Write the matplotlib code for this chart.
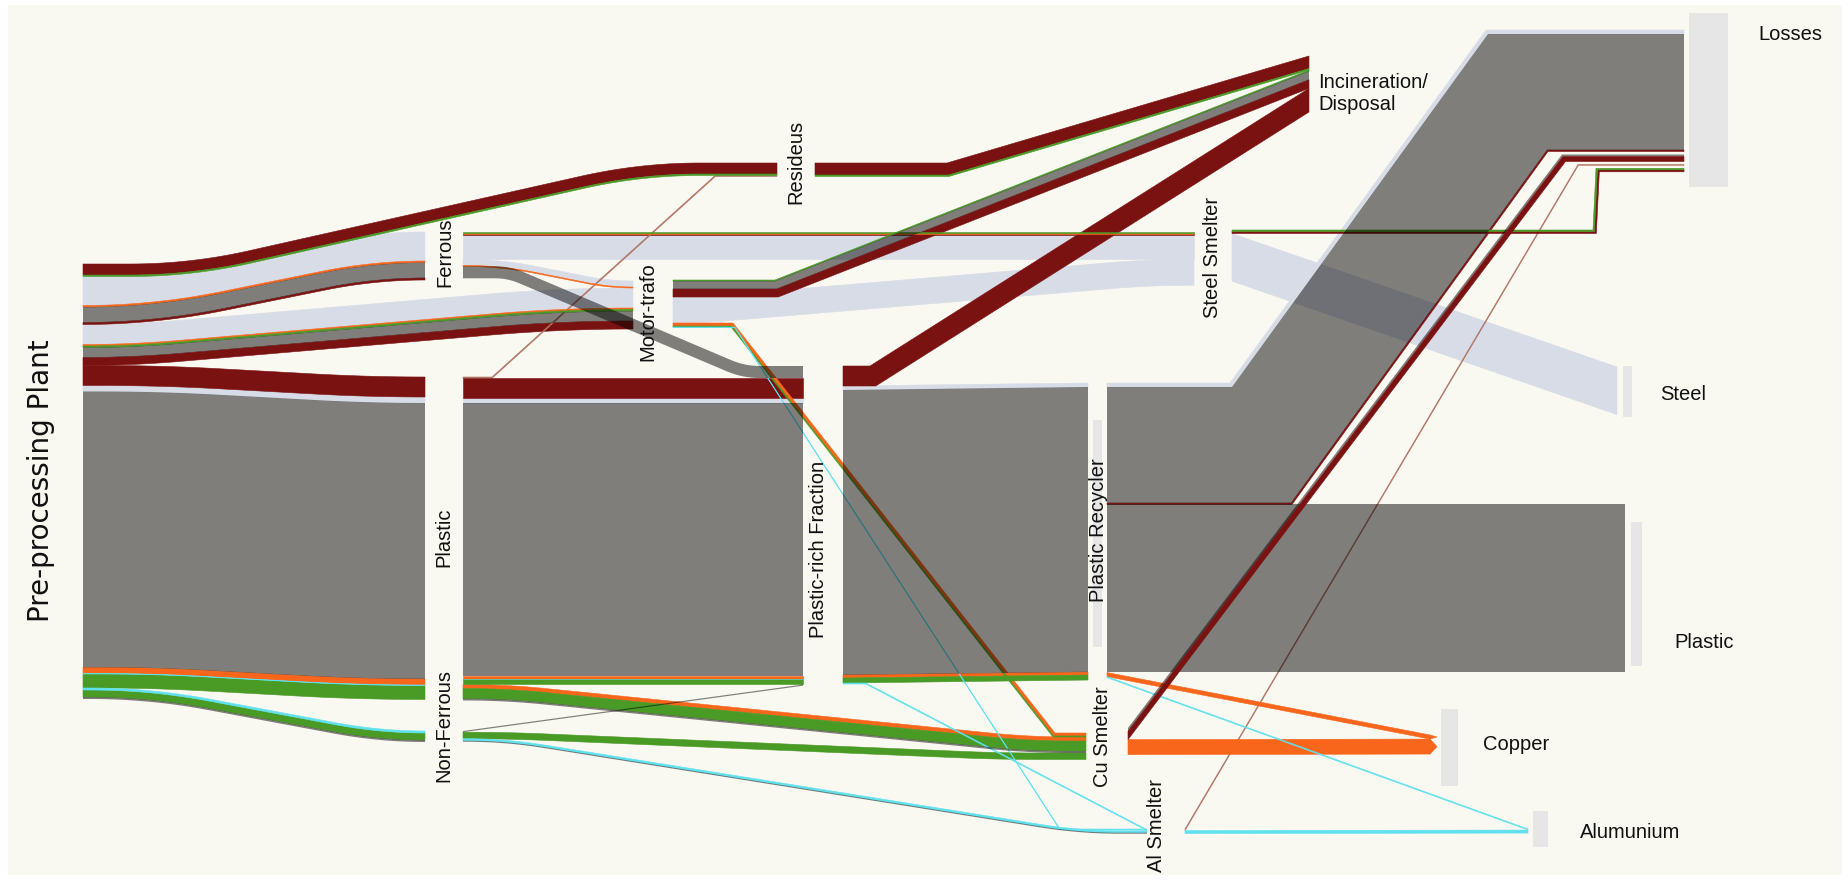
import numpy as np
import matplotlib
matplotlib.use("Agg")
import matplotlib.pyplot as plt
from matplotlib.patches import Polygon, Rectangle

# ---------------- data ----------------
# material flows of the recycling chain, one entry per arrow (kt, 1 kt = 2 px band width)
FLOW_SOURCE = ["plant", "plant", "ferrous", "ferrous", "ferrous", "plant", "plant", "plant",
               "plastic", "residues", "motor", "motor", "motor", "motor", "plastic", "plastic",
               "nonferrous", "nonferrous", "prf", "prf", "prf", "nonferrous",
               "recycler", "recycler", "recycler", "recycler", "cu", "cu", "al", "al",
               "steelsm", "steelsm"]
FLOW_TARGET = ["residues", "ferrous", "steelsm", "motor", "prf", "motor", "plastic", "nonferrous",
               "residues", "incin", "incin", "steelsm", "cu", "al", "prf", "cu",
               "prf", "cu", "incin", "recycler", "al", "al",
               "losses", "plastic_out", "copper", "alu", "losses", "copper", "losses", "alu",
               "losses", "steel_out"]
FLOW_MATERIALS = [
    ["residue", "other"],
    ["steel", "copper", "plastic", "residue"],
    ["other", "copper", "residue", "steel"],
    ["steel", "copper"],
    ["plastic"],
    ["steel", "copper", "other", "plastic", "residue"],
    ["residue", "steel", "plastic", "copper", "aluminium", "other"],
    ["aluminium", "other", "plastic"],
    ["residue"],
    ["residue", "other"],
    ["other", "plastic", "residue"],
    ["steel"],
    ["copper", "other"],
    ["aluminium"],
    ["residue", "steel", "plastic", "copper", "aluminium", "other"],
    ["copper", "other", "plastic"],
    ["plastic"],
    ["other"],
    ["residue"],
    ["steel", "plastic", "copper", "other"],
    ["aluminium"],
    ["aluminium", "plastic"],
    ["steel", "plastic", "residue"],
    ["plastic"],
    ["copper"],
    ["aluminium"],
    ["plastic", "residue"],
    ["copper"],
    ["residue"],
    ["aluminium"],
    ["other", "residue"],
    ["steel"],
]
FLOW_AMOUNTS = [
    [5.5, 0.75],
    [14.5, 0.75, 7.75, 1.0],
    [0.5, 0.4, 0.75, 12.0],
    [3.0, 0.5],
    [6.0],
    [10.0, 0.75, 0.75, 5.0, 4.0],
    [10.0, 3.0, 138.0, 3.0, 0.25, 7.0],
    [1.0, 3.5, 1.0],
    [0.5],
    [6.0, 0.75],
    [0.5, 4.0, 4.0],
    [13.0],
    [1.5, 0.5],
    [0.3],
    [10.0, 2.5, 136.5, 1.5, 0.25, 2.5],
    [2.0, 5.0, 1.0],
    [0.6],
    [3.25],
    [10.0],
    [2.0, 142.5, 1.5, 2.5],
    [0.5],
    [1.0, 0.5],
    [2.0, 58.0, 0.75],
    [84.0],
    [2.0],
    [0.5],
    [1.0, 2.5],
    [7.5],
    [0.4],
    [1.5],
    [0.75, 1.0],
    [22.5],
]

# ---------------- layout / style ----------------
PX_PER_UNIT = 2.0
BG = "#F9F8F1"
COLORS = {
    "steel": "#D8DCE7",
    "residue": "#7B1212",
    "copper": "#F8661C",
    "other": "#4A9A26",
    "aluminium": "#5FE1EE",
    "plastic": (0, 0, 0, 0.49),   # drawn as a darkening layer (multiply look)
}
THIN_RESIDUE = "#B07262"
LAYER_ORDER = ["steel", "residue", "copper", "other", "aluminium", "plastic"]
TOP_FLOWS = [("cu", "losses")]   # drawn over the grey plastic bands

# node: x where inflows end, x where outflows start, top of inflow stack, top of outflow stack, gap
NODE_LAYOUT = {
    "plant": (None, 83, None, 264, 0),
    "ferrous": (425, 463, 232, 232, 0),
    "plastic": (425, 463, 377, 377, 0),
    "nonferrous": (425, 463, 731, 731, 0),
    "residues": (777, 815, 163, 163, 0),
    "motor": (633, 673, 281, 280, 0),
    "prf": (803, 843, 366, 366, 0),
    "steelsm": (1194, 1232, 232, 230, 0),
    "incin": (1309, None, 56, None, 0),
    "recycler": (1088, 1107, 383, 383, 0),
    "cu": (1086, 1128, 733, 728, 0),
    "al": (1147, 1185, 829, 829, 0),
    "losses": (1684, None, 30, None, 3),
    "steel_out": (1617, None, 367, None, 0),
    "plastic_out": (1625, None, 504.5, None, 0),
    "copper": (1430, None, 735, None, 0),
    "alu": (1528, None, 829, None, 0),
}
ARROW_NODES = ["copper"]

# bend x positions (None = at node) and corner rounding for every arrow
FLOW_ROUTES = [
    (190, 640, 60), (150, 370, 70), (None, None, 0), (500, 610, 40), (510, 745, 15),
    (130, 560, 80), (160, 370, 60), (150, 380, 60), (492, 715, 0), (947, None, 0),
    (775, None, 0), (700, 1150, 40), (733, 1055, 0), (735, 1060, 0), (None, None, 0),
    (505, 1030, 40), (None, None, 0), (505, 1000, 40), (870, None, 0), (None, None, 0),
    (866, None, 0), (505, 1080, 40), (1230, 1486, 0), (None, None, 0), (None, None, 0),
    (None, None, 0), (None, 1562, 0), (None, None, 0), (None, 1578, 0), (None, None, 0),
    (1593, 1596, 0), (None, None, 0),
]

# light grey node boxes (x, y, w, h)
NODE_BOXES = [(1689, 13, 39, 174), (1623, 366, 9, 51), (1631, 522, 11, 144),
              (1441, 709, 17, 77), (1533, 811, 15, 36), (1093, 420, 9, 227)]

LABELS = [
    ("Ferrous", 445, 252, 90), ("Plastic", 444, 537, 90), ("Non-Ferrous", 444, 726, 90),
    ("Resideus", 796, 162, 90), ("Motor-trafo", 648, 312, 90),
    ("Plastic-rich Fraction", 818, 549, 90), ("Steel Smelter", 1213, 257, 90),
    ("Plastic Recycler", 1098, 530, 90), ("Cu Smelter", 1102, 737, 90),
    ("Al Smelter", 1157, 825, 90),
    ("Incineration/\nDisposal", 1318, 94, 0), ("Losses", 1758, 34, 0),
    ("Steel", 1660, 395, 0), ("Plastic", 1674, 643, 0), ("Copper", 1483, 745, 0),
    ("Alumunium", 1580, 832, 0),
]


def round_corners(pts, r, steps=24):
    out = [pts[0]]
    last = len(pts) - 1
    for k in range(1, last):
        a, b, c = pts[k - 1], pts[k], pts[k + 1]
        la = np.hypot(*(b - a))
        lc = np.hypot(*(c - b))
        rr = min(r, la if k == 1 else la / 2, lc if k + 1 == last else lc / 2)
        p0 = b + (a - b) / la * rr
        p2 = b + (c - b) / lc * rr
        s = np.linspace(0, 1, steps)[:, None]
        out.extend((1 - s) ** 2 * p0 + 2 * (1 - s) * s * b + s ** 2 * p2)
    out.append(pts[-1])
    out = np.array(out)
    keep = np.r_[True, np.hypot(*np.diff(out, axis=0).T) > 1e-6]
    return out[keep]


def route_points(i, y_s, y_d):
    xs = NODE_LAYOUT[FLOW_SOURCE[i]][1]
    xd = NODE_LAYOUT[FLOW_TARGET[i]][0]
    xa, xb, r = FLOW_ROUTES[i]
    xa = xs if xa is None else xa
    xb = xd if xb is None else xb
    pts = [(xs, y_s[i])]
    if xa > xs + 0.5:
        pts.append((xa, y_s[i]))
    if xb < xd - 0.5:
        pts.append((xb, y_d[i]))
    pts.append((xd, y_d[i]))
    pts = np.array(pts, dtype=float)
    if r > 0 and len(pts) > 2:
        pts = round_corners(pts, r)
    return pts


def offset(pts, d):
    # parallel line at perpendicular distance d, mitred corners, vertical end cuts
    seg = np.diff(pts, axis=0)
    t = seg / np.hypot(seg[:, 0], seg[:, 1])[:, None]
    nrm = np.column_stack([-t[:, 1], t[:, 0]])
    out = pts.copy()
    out[0] += (0, d / t[0, 0])
    out[-1] += (0, d / t[-1, 0])
    if len(pts) > 2:
        m = nrm[:-1] + nrm[1:]
        dot = np.sum(nrm[:-1] * nrm[1:], axis=1)
        out[1:-1] += d * m / (1 + dot)[:, None]
    return out


n = len(FLOW_SOURCE)
widths = [sum(a) * PX_PER_UNIT for a in FLOW_AMOUNTS]
ext_s = list(widths)
ext_d = list(widths)
y_s = [0.0] * n
y_d = [0.0] * n
for _ in range(4):
    for node, (xi, xo, ti, to, gap) in NODE_LAYOUT.items():
        cur = to
        for i in range(n):
            if FLOW_SOURCE[i] == node:
                y_s[i] = cur
                cur += ext_s[i]
        cur = ti
        for i in range(n):
            if FLOW_TARGET[i] == node:
                y_d[i] = cur
                cur += ext_d[i] + gap
    for i in range(n):
        p = route_points(i, y_s, y_d)
        t0 = p[1] - p[0]
        t1 = p[-1] - p[-2]
        ext_s[i] = widths[i] * np.hypot(*t0) / t0[0]
        ext_d[i] = widths[i] * np.hypot(*t1) / t1[0]

paths = [route_points(i, y_s, y_d) for i in range(n)]

fig = plt.figure(figsize=(18.49, 8.80), dpi=100, facecolor="white")
ax = fig.add_axes([0, 0, 1, 1])
ax.set_xlim(0, 1849)
ax.set_ylim(880, 0)
ax.axis("off")

ax.add_patch(Rectangle((8, 5), 1834, 870, facecolor=BG, edgecolor="none", zorder=0))
for (bx, by, bw, bh) in NODE_BOXES:
    ax.add_patch(Rectangle((bx, by), bw, bh, facecolor="#E6E6E6", edgecolor="none", zorder=1))


def draw_slice(i, d, w, mat, z):
    top = offset(paths[i], d)
    bot = offset(paths[i], d + w)
    poly = np.vstack([top, bot[::-1]])
    if mat == "plastic":
        ax.add_patch(Polygon(poly, closed=True, facecolor=COLORS[mat], edgecolor="none",
                             linewidth=0, zorder=z))
    else:
        col = THIN_RESIDUE if (mat == "residue" and w < 1.5) else COLORS[mat]
        ax.add_patch(Polygon(poly, closed=True, facecolor=col, edgecolor=col,
                             linewidth=0.4, zorder=z))


top_idx = [i for i in range(n) if (FLOW_SOURCE[i], FLOW_TARGET[i]) in TOP_FLOWS]
for layer in LAYER_ORDER:
    for i in range(n):
        if i in top_idx:
            continue
        d = 0.0
        for mat, amt in zip(FLOW_MATERIALS[i], FLOW_AMOUNTS[i]):
            w = amt * PX_PER_UNIT
            if mat == layer:
                draw_slice(i, d, w, mat, 3 if mat == "plastic" else 2)
            d += w

for i in top_idx:
    d = 0.0
    for mat, amt in zip(FLOW_MATERIALS[i], FLOW_AMOUNTS[i]):
        w = amt * PX_PER_UNIT
        draw_slice(i, d, w, mat, 4)
        d += w

# arrow tips into the copper product
for i in range(n):
    if FLOW_TARGET[i] in ARROW_NODES:
        top = offset(paths[i], 0)[-1]
        bot = offset(paths[i], widths[i])[-1]
        main = FLOW_MATERIALS[i][int(np.argmax(FLOW_AMOUNTS[i]))]
        tip = (top[0] + 7, (top[1] + bot[1]) / 2)
        ax.add_patch(Polygon([top, tip, bot], closed=True, facecolor=COLORS[main],
                             edgecolor=COLORS[main], linewidth=0.4, zorder=2))

for text, x, y, rot in LABELS:
    ax.text(x, y, text, rotation=rot, ha="center" if rot else "left", va="center",
            fontsize=14.5, family="Liberation Sans", color="#111111", zorder=5)

ax.text(41, 481, "Pre-processing Plant", rotation=90, ha="center", va="center",
        fontsize=20, family="DejaVu Sans", color="#111111", zorder=5)

fig.savefig("out.png", dpi=100, facecolor="white")
